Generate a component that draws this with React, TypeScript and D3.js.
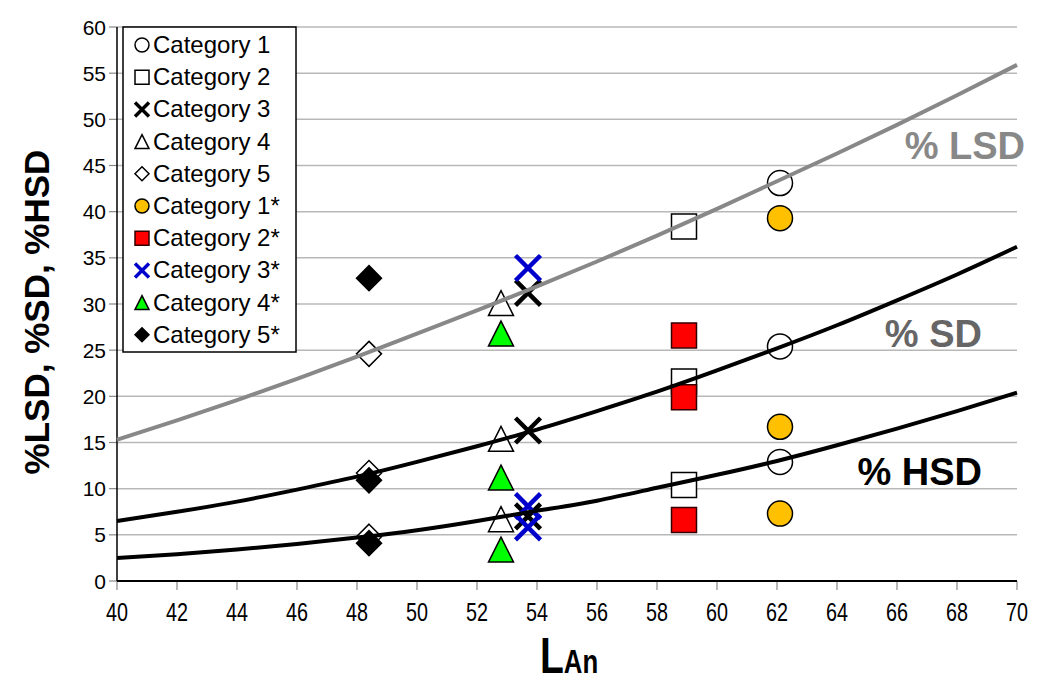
import React from 'react'
import * as d3 from 'd3'

// chart values
const xTicks = [40, 42, 44, 46, 48, 50, 52, 54, 56, 58, 60, 62, 64, 66, 68, 70]
const yTicks = [0, 5, 10, 15, 20, 25, 30, 35, 40, 45, 50, 55, 60]

const catNames = ['Category 1', 'Category 2', 'Category 3', 'Category 4', 'Category 5',
  'Category 1*', 'Category 2*', 'Category 3*', 'Category 4*', 'Category 5*']
const catX = [62.1, 58.9, 53.7, 52.8, 48.4, 62.1, 58.9, 53.7, 52.8, 48.4]
const catY = [
  [43.1, 25.4, 12.9],
  [38.4, 21.6, 10.4],
  [31.2, 16.3, 7.0],
  [30.1, 15.4, 6.7],
  [24.6, 11.7, 4.8],
  [39.3, 16.7, 7.3],
  [26.6, 19.9, 6.6],
  [33.9, 8.1, 5.8],
  [26.8, 11.2, 3.4],
  [32.8, 10.9, 4.1],
]
const catShape = ['circle', 'square', 'x', 'triangle', 'diamond', 'circle', 'square', 'x', 'triangle', 'diamond']
const catFill = ['#fff', '#fff', 'none', '#fff', '#fff', '#FFC000', '#FF0000', 'none', '#00FF00', '#000']
const catStroke = ['#000', '#000', '#000', '#000', '#000', '#000', '#300', '#0000CC', '#000', '#000']

// trend curves sampled at each x tick
const curveX = xTicks
const lsdCurve = [15.3, 17.4, 19.6, 21.9, 24.3, 26.8, 29.3, 31.9, 34.6, 37.4, 40.3, 43.3, 46.3, 49.4, 52.6, 55.9]
const sdCurve = [6.5, 7.5, 8.6, 9.9, 11.3, 12.9, 14.6, 16.4, 18.4, 20.5, 22.8, 25.2, 27.7, 30.4, 33.2, 36.2]
const hsdCurve = [2.5, 2.9, 3.4, 4.0, 4.7, 5.5, 6.5, 7.6, 8.7, 10.1, 11.5, 13.0, 14.7, 16.5, 18.4, 20.4]

const FONT = 'Liberation Sans, Arial, sans-serif'

const markerPath = (shape: string, s: number) => {
  const h = s / 2
  if (shape === 'square') return `M${-h},${-h}H${h}V${h}H${-h}Z`
  if (shape === 'triangle') return `M0,${-h}L${h},${h}L${-h},${h}Z`
  if (shape === 'diamond') return `M0,${-h}L${h},0L0,${h}L${-h},0Z`
  if (shape === 'x') return `M${-h},${-h}L${h},${h}M${h},${-h}L${-h},${h}`
  return `M${h},0A${h},${h} 0 1 1 ${-h},0A${h},${h} 0 1 1 ${h},0Z`
}

const Marker = ({ i, x, y, s, xw }: { i: number; x: number; y: number; s: number; xw: number }) => {
  const shape = catShape[i]
  const isX = shape === 'x'
  return (
    <path
      transform={`translate(${x},${y})`}
      d={markerPath(shape, s)}
      fill={catFill[i]}
      stroke={catStroke[i]}
      strokeWidth={isX ? xw : 1.5}
    />
  )
}

export default function App() {
  const width = 1037
  const height = 688
  const left = 117
  const right = 1017
  const top = 27
  const bottom = 581

  const x = d3.scaleLinear().domain([40, 70]).range([left, right])
  const y = d3.scaleLinear().domain([0, 60]).range([bottom, top])

  const line = d3
    .line<number>()
    .x((_, i) => x(curveX[i]))
    .y((d) => y(d))
    .curve(d3.curveNatural)

  const legX = 123
  const legY = 27

  return (
    <svg width={width} height={height} style={{ position: 'absolute', left: 0, top: 0 }} fontFamily={FONT}>
      <rect width={width} height={height} fill="#fff" />
      {/* grid */}
      {yTicks.slice(1).map((t) => (
        <line key={t} x1={left} x2={right} y1={y(t)} y2={y(t)} stroke="#b8b8b8" strokeWidth={1.5} />
      ))}
      {/* y ticks */}
      {yTicks.map((t) => (
        <g key={t}>
          <line x1={left - 8} x2={left} y1={y(t)} y2={y(t)} stroke="#888" strokeWidth={1.2} />
          <text x={left - 11} y={y(t) + 7.5} textAnchor="end" fontSize={21}>
            {t}
          </text>
        </g>
      ))}
      {/* x ticks */}
      {xTicks.map((t) => (
        <g key={t}>
          <line x1={x(t)} x2={x(t)} y1={bottom} y2={bottom + 9} stroke="#888" strokeWidth={1.2} />
          <text transform={`translate(${x(t)},${bottom + 40}) scale(0.76,1)`} textAnchor="middle" fontSize={26}>
            {t}
          </text>
        </g>
      ))}
      <line x1={left} x2={left} y1={top} y2={bottom} stroke="#000" strokeWidth={1.5} />
      <line x1={left} x2={right} y1={bottom} y2={bottom} stroke="#000" strokeWidth={2} />

      {/* markers */}
      {catNames.map((_, i) =>
        catY[i].map((v, j) => <Marker key={`${i}-${j}`} i={i} x={x(catX[i])} y={y(v)} s={25} xw={4.5} />)
      )}

      {/* trend curves */}
      <path d={line(lsdCurve) || ''} fill="none" stroke="#888" strokeWidth={4} />
      <path d={line(sdCurve) || ''} fill="none" stroke="#000" strokeWidth={4} />
      <path d={line(hsdCurve) || ''} fill="none" stroke="#000" strokeWidth={4} />

      <text x={1025} y={159} textAnchor="end" fontSize={38} fontWeight="bold" fill="#888">
        % LSD
      </text>
      <text x={982} y={347} textAnchor="end" fontSize={38} fontWeight="bold" fill="#666">
        % SD
      </text>
      <text x={982} y={485} textAnchor="end" fontSize={38} fontWeight="bold" fill="#000">
        % HSD
      </text>

      {/* legend */}
      <rect x={legX} y={legY} width={173} height={325} fill="#fff" stroke="#000" strokeWidth={1.5} />
      {catNames.map((name, i) => {
        const cy = legY + 18 + i * 32.2
        return (
          <g key={name}>
            <Marker i={i} x={legX + 19} y={cy} s={14} xw={3.5} />
            <text x={legX + 30} y={cy + 8} fontSize={24}>
              {name}
            </text>
          </g>
        )
      })}

      {/* axis titles */}
      <text
        transform={`translate(49,312) rotate(-90)`}
        textAnchor="middle"
        fontSize={35}
        fontWeight="bold"
      >
        %LSD, %SD, %HSD
      </text>
      <text transform={`translate(540,673) scale(0.78,1)`} fontWeight="bold">
        <tspan fontSize={50}>L</tspan>
        <tspan fontSize={33}>An</tspan>
      </text>
    </svg>
  )
}
